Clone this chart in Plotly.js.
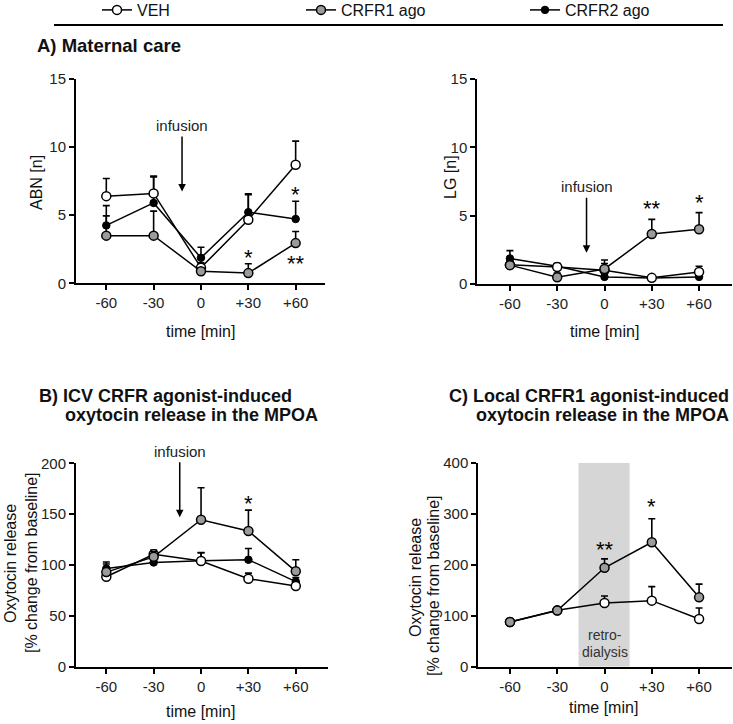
<!DOCTYPE html>
<html><head><meta charset="utf-8">
<script src="https://cdn.plot.ly/plotly-3.0.1.min.js"></script>
<style>html,body{margin:0;padding:0;background:#fff}#chart{width:733px;height:724px}</style>
</head><body><div id="chart"></div>
<script>
// ---------- data ----------
const timeLabels = ['-60', '-30', '0', '+30', '+60'];
const seriesNames = ['VEH', 'CRFR1 ago', 'CRFR2 ago'];
const noLowerErr = [0, 0, 0, 0, 0];

// A) ABN [n]
const abnVEH = [6.4, 6.6, 1.15, 4.66, 8.7];
const abnVEHerr = [1.3, 1.27, 0.35, 1.85, 1.74];
const abnCRFR1 = [3.5, 3.5, 0.88, 0.75, 2.95];
const abnCRFR1err = [1.45, 1.8, 0.2, 0.68, 0.85];
const abnCRFR2 = [4.25, 5.9, 1.87, 5.22, 4.72];
const abnCRFR2err = [1.45, 1.9, 0.78, 1.35, 1.3];

// A) LG [n]
const lgVEH = [1.4, 1.25, 1.0, 0.45, 0.88];
const lgVEHerr = [0.3, 0.25, 0.5, 0.1, 0.42];
const lgCRFR1 = [1.38, 0.5, 1.1, 3.66, 4.0];
const lgCRFR1err = [0.3, 0.3, 0.66, 1.07, 1.22];
const lgCRFR2 = [1.87, 1.3, 0.52, 0.44, 0.52];
const lgCRFR2err = [0.57, 0.2, 0.2, 0.1, 0.1];

// B) ICV oxytocin release [% of baseline]
const icvVEH = [88.5, 110.5, 104, 86.5, 79.4];
const icvVEHerr = [3, 4.2, 8, 5.5, 3];
const icvCRFR1 = [93, 108, 144.5, 133.4, 93.8];
const icvCRFR1err = [8, 5, 31.5, 20.6, 11.3];
const icvCRFR2 = [96.5, 102.5, 104.2, 105.2, 83.6];
const icvCRFR2err = [6.5, 3, 8, 11, 4];

// C) Local oxytocin release [% of baseline]
const locVEH = [87.5, 110.5, 125, 129.5, 93.5];
const locVEHerr = [3, 3, 13.5, 27.5, 21.5];
const locCRFR1 = [87.5, 110, 194, 244, 136];
const locCRFR1err = [3, 3, 17.5, 46, 26];
const retroWindow = [1.45, 2.53]; // category-index units (-15 .. +15 min)

// significance marks: [category index, y value, text]
const starsABN = [[3, 2.08, '*'], [4, 6.74, '*'], [4, 1.71, '**']];
const starsLG = [[3, 5.78, '**'], [4, 6.2, '*']];
const starsICV = [[3, 163, '*']];
const starsLOC = [[2, 235, '**'], [3, 320, '*']];

// ---------- helpers ----------
const W = 733, H = 724;
const FONT = 'Liberation Sans, Arial, Helvetica, sans-serif';
const px = p => p / W;
const py = p => 1 - p / H;

const styles = {
  'VEH': {marker: {symbol: 'circle', size: 9, color: '#ffffff', line: {color: '#000', width: 1.5}}},
  'CRFR1 ago': {marker: {symbol: 'circle', size: 9, color: '#9b9b9b', line: {color: '#000', width: 1.5}}},
  'CRFR2 ago': {marker: {symbol: 'circle', size: 7.5, color: '#000000', line: {color: '#000', width: 1}}}
};
const legendOf = {'VEH': 'legend', 'CRFR1 ago': 'legend2', 'CRFR2 ago': 'legend3'};

function tr(name, y, err, xa, ya, showLegend) {
  return {
    type: 'scatter', mode: 'lines+markers', name: name,
    x: timeLabels, y: y, xaxis: xa, yaxis: ya,
    line: {color: '#000', width: 1.5},
    marker: styles[name].marker,
    error_y: {type: 'data', symmetric: false, array: err, arrayminus: noLowerErr,
              color: '#000', thickness: 1.6, width: 3.5},
    showlegend: !!showLegend, legend: legendOf[name],
    cliponaxis: false
  };
}

const data = [
  tr('CRFR2 ago', abnCRFR2, abnCRFR2err, 'x', 'y', true),
  tr('VEH', abnVEH, abnVEHerr, 'x', 'y', true),
  tr('CRFR1 ago', abnCRFR1, abnCRFR1err, 'x', 'y', true),
  tr('CRFR2 ago', lgCRFR2, lgCRFR2err, 'x2', 'y2'),
  tr('VEH', lgVEH, lgVEHerr, 'x2', 'y2'),
  tr('CRFR1 ago', lgCRFR1, lgCRFR1err, 'x2', 'y2'),
  tr('CRFR2 ago', icvCRFR2, icvCRFR2err, 'x3', 'y3'),
  tr('VEH', icvVEH, icvVEHerr, 'x3', 'y3'),
  tr('CRFR1 ago', icvCRFR1, icvCRFR1err, 'x3', 'y3'),
  tr('VEH', locVEH, locVEHerr, 'x4', 'y4'),
  tr('CRFR1 ago', locCRFR1, locCRFR1err, 'x4', 'y4')
];

function xax(d0, d1, r0, r1, anchor) {
  return {
    type: 'category', categoryorder: 'array', categoryarray: timeLabels,
    domain: [px(d0), px(d1)], range: [r0, r1], anchor: anchor,
    showline: true, linewidth: 2, linecolor: '#000', mirror: false,
    ticks: 'outside', ticklen: 5, tickwidth: 2, tickcolor: '#000',
    showgrid: false, zeroline: false, fixedrange: true, automargin: false,
    tickfont: {family: FONT, size: 15, color: '#222'}
  };
}
function yax(top, bottom, r1, dtick, anchor) {
  return {
    domain: [py(bottom), py(top)], range: [0, r1], dtick: dtick, tick0: 0, anchor: anchor,
    showline: true, linewidth: 2, linecolor: '#000',
    ticks: 'outside', ticklen: 5, tickwidth: 2, tickcolor: '#000',
    showgrid: false, zeroline: false, fixedrange: true, automargin: false,
    tickfont: {family: FONT, size: 15, color: '#222'}
  };
}

const ann = [];
function txt(x, y, text, size, opts) {
  ann.push(Object.assign({xref: 'paper', yref: 'paper', x: px(x), y: py(y), text: text,
    showarrow: false, font: {family: FONT, size: size, color: '#111'},
    xanchor: 'center', yanchor: 'middle'}, opts || {}));
}
// panel titles
txt(35, 45, '<b>A) Maternal care</b>', 18.5, {xanchor: 'left'});
txt(37, 396, '<b>B) ICV CRFR agonist-induced</b>', 18, {xanchor: 'left'});
txt(63, 415, '<b>oxytocin release in the MPOA</b>', 18, {xanchor: 'left'});
txt(731, 396, '<b>C) Local CRFR1 agonist-induced</b>', 18, {xanchor: 'right'});
txt(731, 415, '<b>oxytocin release in the MPOA</b>', 18, {xanchor: 'right'});
// axis titles
txt(37, 183, 'ABN [n]', 16, {textangle: -90});
txt(450, 177, 'LG [n]', 16, {textangle: -90});
txt(10, 564, 'Oxytocin release', 16, {textangle: -90});
txt(31, 563, '[% change from baseline]', 16, {textangle: -90});
txt(415, 578, 'Oxytocin release', 16, {textangle: -90});
txt(433, 586, '[% change from baseline]', 16, {textangle: -90});
txt(200, 331, 'time [min]', 16);
txt(604, 331, 'time [min]', 16);
txt(200, 711, 'time [min]', 16);
txt(603, 707, 'time [min]', 16);

// infusion arrows
function infusion(xa, ya, xi, yTip) {
  ann.push({xref: xa, yref: ya, x: xi, y: yTip, text: 'infusion', showarrow: true,
    ax: 0, ay: -66, arrowhead: 2, arrowsize: 1, arrowwidth: 1.5, arrowcolor: '#000',
    standoff: 0, startstandoff: 1, font: {family: FONT, size: 15, color: '#222'}});
}
infusion('x', 'y', 1.6, 6.74);
infusion('x2', 'y2', 1.62, 2.29);
infusion('x3', 'y3', 1.55, 147);

// stars
function stars(list, xa, ya) {
  list.forEach(s => ann.push({xref: xa, yref: ya, x: s[0], y: s[1], text: s[2], showarrow: false,
    yshift: -3, font: {family: FONT, size: 22, color: '#000'}, xanchor: 'center', yanchor: 'middle'}));
}
stars(starsABN, 'x', 'y');
stars(starsLG, 'x2', 'y2');
stars(starsICV, 'x3', 'y3');
stars(starsLOC, 'x4', 'y4');

// retro-dialysis label
ann.push({xref: 'x4', yref: 'y4', x: 2, y: 62, text: 'retro-', showarrow: false,
  font: {family: FONT, size: 14, color: '#333'}});
ann.push({xref: 'x4', yref: 'y4', x: 2, y: 29, text: 'dialysis', showarrow: false,
  font: {family: FONT, size: 14, color: '#333'}});

const legBase = {y: py(10), yanchor: 'middle', xanchor: 'left', orientation: 'h', bgcolor: 'rgba(0,0,0,0)',
  font: {family: FONT, size: 16, color: '#111'}, borderwidth: 0};

const layout = {
  width: W, height: H, margin: {l: 0, r: 0, t: 0, b: 0, pad: 0, autoexpand: false},
  paper_bgcolor: '#fff', plot_bgcolor: 'rgba(0,0,0,0)',
  font: {family: FONT, color: '#111'},
  showlegend: true,
  legend: Object.assign({x: px(97)}, legBase),
  legend2: Object.assign({x: px(301)}, legBase),
  legend3: Object.assign({x: px(525)}, legBase),
  xaxis: xax(76, 325, -0.64, 4.62, 'y'),
  yaxis: yax(79, 283.3, 15, 5, 'x'),
  xaxis2: xax(477.3, 731.7, -0.69, 4.69, 'y2'),
  yaxis2: yax(79, 284, 15, 5, 'x2'),
  xaxis3: xax(76, 328, -0.64, 4.68, 'y3'),
  yaxis3: yax(463.3, 666.7, 200, 50, 'x3'),
  xaxis4: xax(478.3, 731.7, -0.67, 4.69, 'y4'),
  yaxis4: yax(462.7, 666.7, 400, 100, 'x4'),
  shapes: [
    {type: 'line', xref: 'paper', yref: 'paper', x0: px(54), x1: px(723), y0: py(25), y1: py(25),
     line: {color: '#000', width: 2}},
    {type: 'rect', xref: 'x4', yref: 'y4', x0: retroWindow[0], x1: retroWindow[1], y0: 0, y1: 400,
     fillcolor: '#d6d6d6', line: {width: 0}, layer: 'below'}
  ],
  annotations: ann
};

Plotly.newPlot('chart', data, layout, {displayModeBar: false, staticPlot: true});
</script>
</body></html>
